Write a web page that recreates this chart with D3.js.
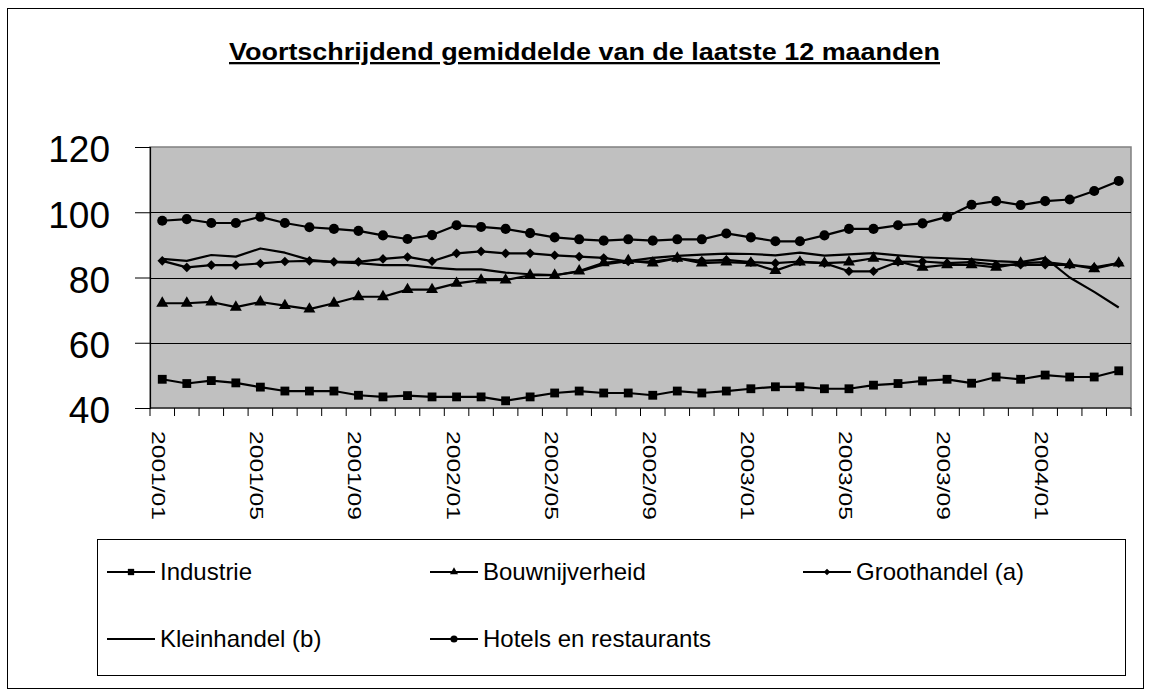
<!DOCTYPE html>
<html>
<head>
<meta charset="utf-8">
<script src="https://cdn.jsdelivr.net/npm/d3@7"></script>
<style>
  body { margin: 0; background: #fff; }
  text { font-family: Arial, "Liberation Sans", sans-serif; fill: #000; }
</style>
</head>
<body>
<div class="container"></div>
<script>
var months = [
    '2001/01', '2001/02', '2001/03', '2001/04', '2001/05', '2001/06', '2001/07', '2001/08',
    '2001/09', '2001/10', '2001/11', '2001/12', '2002/01', '2002/02', '2002/03', '2002/04',
    '2002/05', '2002/06', '2002/07', '2002/08', '2002/09', '2002/10', '2002/11', '2002/12',
    '2003/01', '2003/02', '2003/03', '2003/04', '2003/05', '2003/06', '2003/07', '2003/08',
    '2003/09', '2003/10', '2003/11', '2003/12', '2004/01', '2004/02', '2004/03', '2004/04'
];

var industrie = [48.8, 47.5, 48.4, 47.7, 46.4, 45.2, 45.2, 45.2, 43.9, 43.4,
    43.8, 43.4, 43.4, 43.4, 42.2, 43.4, 44.6, 45.2, 44.6, 44.6,
    43.9, 45.2, 44.6, 45.2, 45.9, 46.5, 46.5, 45.9, 45.9, 47.0,
    47.5, 48.3, 48.8, 47.6, 49.5, 48.8, 50.1, 49.5, 49.5, 51.4];

var bouw = [72.1, 72.1, 72.5, 70.9, 72.5, 71.4, 70.3, 72.1, 74.1, 74.1,
    76.3, 76.3, 78.2, 79.2, 79.2, 80.7, 80.7, 82.0, 84.5, 85.2,
    84.4, 85.9, 84.4, 84.7, 84.4, 82.1, 84.7, 84.4, 84.7, 85.9,
    84.9, 83.1, 83.9, 83.9, 83.1, 84.4, 84.7, 83.9, 82.7, 84.4];

var groothandel = [85.1, 83.1, 83.8, 83.8, 84.3, 84.9, 85.1, 84.8, 84.8, 85.7,
    86.3, 85.0, 87.4, 88.0, 87.4, 87.4, 86.8, 86.4, 86.0, 84.9,
    84.9, 85.9, 85.1, 85.4, 84.7, 84.4, 84.9, 84.4, 81.9, 81.9,
    84.8, 84.9, 84.4, 84.7, 83.9, 83.9, 83.9, 83.9, 83.1, 84.4];

var kleinhandel = [85.7, 85.1, 86.9, 86.4, 88.9, 87.6, 85.4, 84.7, 84.4, 83.8,
    83.8, 83.0, 82.5, 82.5, 81.5, 81.0, 80.7, 81.8, 84.0, 85.0,
    86.0, 86.6, 87.0, 87.3, 87.2, 86.8, 87.6, 86.7, 87.1, 87.5,
    86.8, 86.2, 85.9, 85.6, 85.0, 84.7, 86.0, 80.0, 75.6, 70.8];

var hotels = [97.4, 97.9, 96.7, 96.7, 98.6, 96.7, 95.4, 94.9, 94.3, 92.9,
    91.8, 93.0, 96.0, 95.5, 94.9, 93.6, 92.3, 91.7, 91.3, 91.7,
    91.3, 91.7, 91.7, 93.5, 92.3, 91.1, 91.1, 92.9, 94.9, 94.9,
    96.0, 96.6, 98.6, 102.3, 103.4, 102.2, 103.4, 103.9, 106.5, 109.6];

var yTicks = [40, 60, 80, 100, 120];
var labelEvery = 4;

var seriesList = [
    {name: 'Industrie', values: industrie, marker: d3.symbolSquare, size: 78, legendSize: 40, rot: 0},
    {name: 'Bouwnijverheid', values: bouw, marker: d3.symbolTriangle, size: 62, legendSize: 28, rot: 0},
    {name: 'Groothandel (a)', values: groothandel, marker: d3.symbolSquare, size: 46, legendSize: 22, rot: 45},
    {name: 'Kleinhandel (b)', values: kleinhandel, marker: null},
    {name: 'Hotels en restaurants', values: hotels, marker: d3.symbolCircle, size: 80, legendSize: 40, rot: 0}
];

var translate = function (x, y) {
    return 'translate(' + x + ', ' + y + ')';
};

var visualize = function () {
    const WIDTH = 1152;
    const HEIGHT = 697;
    const PLOT = {left: 150, right: 1131, top: 147, bottom: 408};

    var svg = d3.select('.container')
        .append('svg')
        .attr('width', WIDTH)
        .attr('height', HEIGHT);

    // outer chart frame
    svg.append('rect')
        .attr('x', 7.5).attr('y', 8.5)
        .attr('width', 1136).attr('height', 680)
        .attr('fill', '#fff')
        .attr('stroke', '#000')
        .attr('stroke-width', 1);

    svg.append('text')
        .attr('x', 229)
        .attr('y', 60)
        .attr('textLength', 711)
        .attr('lengthAdjust', 'spacingAndGlyphs')
        .style('font-size', '23px')
        .style('font-weight', 'bold')
        .style('text-decoration', 'underline')
        .text('Voortschrijdend gemiddelde van de laatste 12 maanden');

    var xScale = d3.scaleBand().domain(months).range([PLOT.left, PLOT.right]).padding(0);
    var yScale = d3.scaleLinear().domain([40, 120]).range([PLOT.bottom, PLOT.top]);
    var cx = function (i) { return xScale(months[i]) + xScale.bandwidth() / 2; };

    svg.append('rect')
        .attr('x', PLOT.left).attr('y', PLOT.top)
        .attr('width', PLOT.right - PLOT.left)
        .attr('height', PLOT.bottom - PLOT.top)
        .attr('fill', '#c0c0c0')
        .attr('stroke', '#808080')
        .attr('stroke-width', 1.5);

    svg.append('g').selectAll('line')
        .data(yTicks.slice(1, -1))
        .enter().append('line')
        .attr('x1', PLOT.left).attr('x2', PLOT.right)
        .attr('y1', function (d) { return Math.round(yScale(d)) + 0.5; })
        .attr('y2', function (d) { return Math.round(yScale(d)) + 0.5; })
        .attr('stroke', '#000');

    // y axis
    var yAxis = d3.axisLeft(yScale).tickValues(yTicks).tickSize(15).tickPadding(25);
    var yg = svg.append('g').attr('transform', translate(PLOT.left, 0)).call(yAxis);
    yg.select('.domain').attr('stroke', '#000').attr('stroke-width', 1.2);
    yg.selectAll('.tick line').attr('stroke', '#000');
    yg.selectAll('.tick text')
        .style('font-size', '37px')
        .style('font-family', 'Arial, "Liberation Sans", sans-serif')
        .attr('dy', '0.4em');

    // x axis, ticks on category boundaries
    var bounds = months.map(function (m) { return xScale(m); }).concat([PLOT.right]);
    var xg = svg.append('g');
    xg.append('line')
        .attr('x1', PLOT.left).attr('x2', PLOT.right)
        .attr('y1', PLOT.bottom).attr('y2', PLOT.bottom)
        .attr('stroke', '#000').attr('stroke-width', 1.2);
    xg.selectAll('.xtick')
        .data(bounds)
        .enter().append('line')
        .attr('x1', function (d) { return d; })
        .attr('x2', function (d) { return d; })
        .attr('y1', PLOT.bottom).attr('y2', PLOT.bottom + 8)
        .attr('stroke', '#000');
    xg.selectAll('.xlabel')
        .data(months.filter(function (m, i) { return i % labelEvery === 0; }))
        .enter().append('text')
        .attr('transform', function (d) {
            return translate(xScale(d) + xScale.bandwidth() / 2 - 10, 431) + ' rotate(90)';
        })
        .attr('textLength', 89)
        .attr('lengthAdjust', 'spacingAndGlyphs')
        .style('font-size', '18.5px')
        .text(function (d) { return d; });

    // series
    var line = d3.line()
        .x(function (d, i) { return cx(i); })
        .y(function (d) { return yScale(d); });

    seriesList.forEach(function (s) {
        var g = svg.append('g').classed('lineGroup', true);
        g.append('path')
            .datum(s.values)
            .attr('d', line)
            .attr('fill', 'none')
            .attr('stroke', '#000')
            .attr('stroke-width', 2.2)
            .attr('stroke-linejoin', 'round');
        if (s.marker) {
            g.selectAll('path.mark')
                .data(s.values)
                .enter().append('path')
                .attr('class', 'mark')
                .attr('transform', function (d, i) {
                    return translate(cx(i), yScale(d)) + ' rotate(' + s.rot + ')';
                })
                .attr('d', d3.symbol().type(s.marker).size(s.size))
                .attr('fill', '#000');
        }
    });

    // legend
    svg.append('rect')
        .attr('x', 97.5).attr('y', 539.5)
        .attr('width', 1028).attr('height', 136)
        .attr('fill', '#fff')
        .attr('stroke', '#000');

    var legendCols = [107, 430, 803];
    var legendRows = [572, 639];
    seriesList.forEach(function (s, i) {
        var x = legendCols[i % 3];
        var y = legendRows[Math.floor(i / 3)];
        var g = svg.append('g').attr('transform', translate(x, y));
        g.append('line')
            .attr('x1', 0).attr('x2', 48)
            .attr('y1', 0).attr('y2', 0)
            .attr('stroke', '#000').attr('stroke-width', 2);
        if (s.marker) {
            g.append('path')
                .attr('transform', translate(24, 0) + ' rotate(' + s.rot + ')')
                .attr('d', d3.symbol().type(s.marker).size(s.legendSize))
                .attr('fill', '#000');
        }
        g.append('text')
            .attr('x', 53)
            .attr('y', 8)
            .style('font-size', '24px')
            .text(s.name);
    });
};

window.onload = visualize;
</script>
</body>
</html>
